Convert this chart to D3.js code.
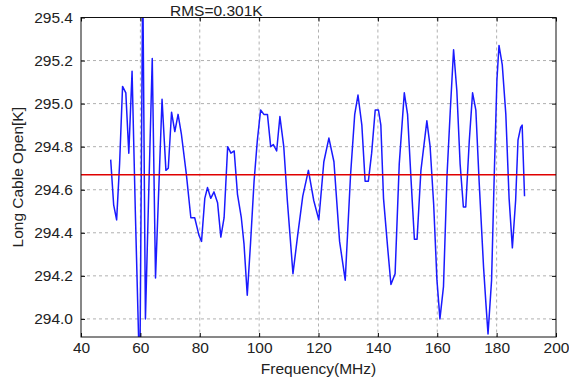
<!DOCTYPE html>
<html>
<head>
<meta charset="utf-8">
<script src="https://cdn.jsdelivr.net/npm/d3@7"></script>
<style>
  html, body { margin: 0; padding: 0; background: #fff; }
  svg { display: block; }
  text { font-family: "Liberation Sans", Arial, sans-serif; fill: #222; }
</style>
</head>
<body>
<svg id="chart" width="569" height="380"></svg>
<script>
// ---- data ----
const freqMHz = [50.0, 51.0, 52.0, 53.0, 54.0, 55.1, 56.1, 57.2, 58.3, 59.8, 60.8, 61.7,
  64.0, 65.1, 67.3, 68.6, 69.4, 70.5, 71.6, 72.7, 73.8, 75.5, 77.0, 78.3, 79.7, 80.6,
  81.7, 82.6, 83.7, 84.8, 86.0, 87.1, 88.2, 89.4, 90.5, 91.6, 92.7, 94.0, 94.9, 96.0,
  97.1, 98.3, 99.4, 100.5, 101.6, 102.8, 103.9, 104.8, 105.9, 107.0, 108.3, 109.5,
  111.4, 113.0, 114.7, 116.6, 118.4, 120.1, 121.8, 123.5, 125.2, 127.1, 129.0, 130.8,
  132.2, 133.3, 134.6, 135.7, 136.8, 137.9, 139.1, 140.2, 141.0, 141.9, 143.3, 144.4,
  145.8, 147.2, 148.9, 150.0, 151.2, 152.3, 153.2, 154.5, 156.5, 157.6, 158.8, 159.9,
  160.9, 162.1, 163.3, 164.4, 165.5, 166.6, 167.7, 168.8, 169.6, 170.8, 171.9, 173.0,
  174.1, 175.6, 176.4, 177.1, 178.3, 179.2, 180.1, 180.8, 181.9, 183.1, 184.2, 185.3,
  186.4, 187.2, 188.1, 188.6, 189.4];
const tempK = [294.74, 294.53, 294.46, 294.72, 295.08, 295.05, 294.77, 295.15, 294.50, 293.70, 295.60, 294.00,
  295.21, 294.19, 295.02, 294.69, 294.70, 294.96, 294.87, 294.95, 294.86, 294.67, 294.47, 294.47, 294.39, 294.36,
  294.56, 294.61, 294.56, 294.59, 294.54, 294.38, 294.47, 294.80, 294.77, 294.78, 294.58, 294.47, 294.35, 294.11,
  294.35, 294.64, 294.83, 294.97, 294.95, 294.95, 294.80, 294.81, 294.78, 294.94, 294.80, 294.55,
  294.21, 294.39, 294.57, 294.69, 294.55, 294.46, 294.73, 294.84, 294.73, 294.36, 294.18, 294.67,
  294.95, 295.04, 294.90, 294.64, 294.64, 294.77, 294.97, 294.97, 294.90, 294.56, 294.33, 294.16,
  294.21, 294.72, 295.05, 294.95, 294.64, 294.37, 294.37, 294.69, 294.92, 294.80, 294.53, 294.18,
  294.00, 294.15, 294.67, 294.97, 295.25, 295.06, 294.72, 294.52, 294.52, 294.83, 295.05, 294.97,
  294.64, 294.24, 294.07, 293.93, 294.18, 294.67, 295.11, 295.27, 295.18, 294.95, 294.56, 294.33,
  294.55, 294.83, 294.89, 294.90, 294.57];
const meanK = 294.67;
const rmsLabel = "RMS=0.301K";
const xTicks = [40, 60, 80, 100, 120, 140, 160, 180, 200];
const yTicks = [294.0, 294.2, 294.4, 294.6, 294.8, 295.0, 295.2, 295.4];
const xLabel = "Frequency(MHz)";
const yLabel = "Long Cable Open[K]";

// ---- layout ----
const L = 81, R = 556, T = 17.5, B = 337;
const FS = 15.5;
const svg = d3.select("#chart");
const x = d3.scaleLinear().domain([40, 200]).range([L, R]);
const y = d3.scaleLinear().domain([293.916, 295.4]).range([B, T]);

svg.append("defs").append("clipPath").attr("id", "clip")
  .append("rect").attr("x", L).attr("y", T).attr("width", R - L).attr("height", B - T);

// grid
const grid = svg.append("g");
grid.selectAll("line.gx").data(xTicks.slice(1, -1)).join("line")
  .attr("x1", d => x(d)).attr("x2", d => x(d)).attr("y1", T).attr("y2", B)
  .attr("stroke", "#b0b0b0").attr("stroke-width", 1).attr("stroke-dasharray", "3,3");
grid.selectAll("line.gy").data(yTicks.filter(v => y(v) > T + 1)).join("line")
  .attr("x1", L).attr("x2", R).attr("y1", d => y(d)).attr("y2", d => y(d))
  .attr("stroke", "#b0b0b0").attr("stroke-width", 1).attr("stroke-dasharray", "3,3");

// data line
const pts = freqMHz.map((f, i) => [f, tempK[i]]);
const line = d3.line().x(d => x(d[0])).y(d => y(d[1]));
svg.append("path").datum(pts).attr("clip-path", "url(#clip)")
  .attr("d", line).attr("fill", "none").attr("stroke", "#1a1aff")
  .attr("stroke-width", 1.5).attr("stroke-linejoin", "round");

// mean line
svg.append("line").attr("x1", L).attr("x2", R).attr("y1", y(meanK)).attr("y2", y(meanK))
  .attr("stroke", "#e00000").attr("stroke-width", 1.5);

// axes
const fmtY = d3.format(".1f");
const ax = svg.append("g").attr("transform", `translate(0,${B})`)
  .call(d3.axisBottom(x).tickValues(xTicks).tickSize(-4).tickPadding(5).tickFormat(d3.format("d")));
const ay = svg.append("g").attr("transform", `translate(${L},0)`)
  .call(d3.axisLeft(y).tickValues(yTicks).tickSize(-4).tickPadding(8).tickFormat(fmtY));
const at = svg.append("g").attr("transform", `translate(0,${T})`)
  .call(d3.axisTop(x).tickValues(xTicks).tickSize(-4).tickFormat(""));
const ar = svg.append("g").attr("transform", `translate(${R},0)`)
  .call(d3.axisRight(y).tickValues(yTicks).tickSize(-4).tickFormat(""));
[ax, ay, at, ar].forEach(g => {
  g.select(".domain").remove();
  g.selectAll(".tick line").attr("stroke", "#000");
  g.selectAll("text").attr("font-size", FS).attr("font-family", "Liberation Sans, Arial, sans-serif").attr("fill", "#222");
});

// frame
svg.append("rect").attr("x", L).attr("y", T).attr("width", R - L).attr("height", B - T)
  .attr("fill", "none").attr("stroke", "#111").attr("stroke-width", 1);

// labels
svg.append("text").attr("x", (L + R) / 2).attr("y", 374).attr("text-anchor", "middle")
  .attr("font-size", FS).text(xLabel);
svg.append("text").attr("transform", `translate(23,${(T + B) / 2}) rotate(-90)`)
  .attr("text-anchor", "middle").attr("font-size", FS).text(yLabel);
svg.append("text").attr("x", 170).attr("y", 16).attr("font-size", FS).text(rmsLabel);
</script>
</body>
</html>
